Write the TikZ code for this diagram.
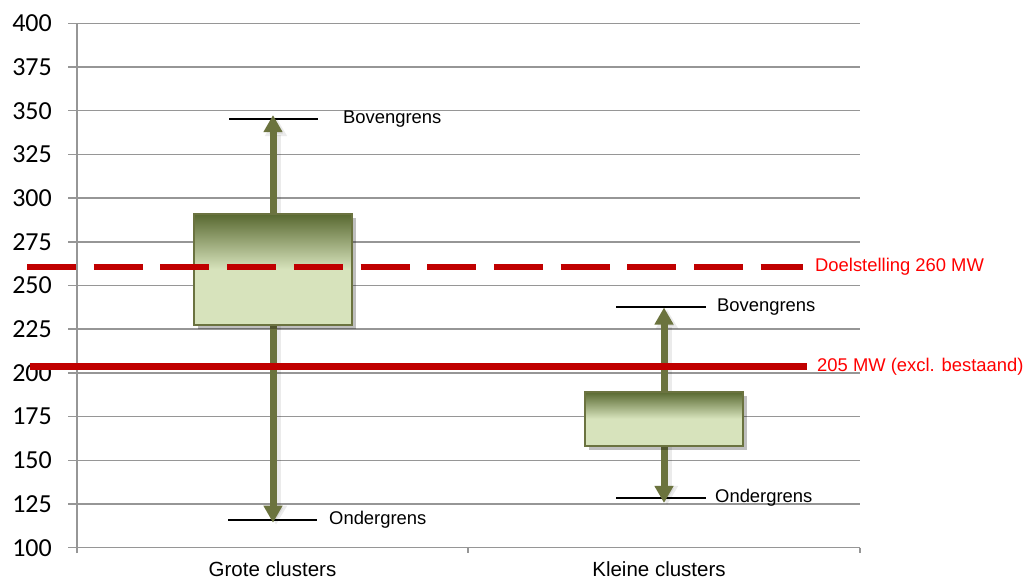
\documentclass[tikz,border=0pt]{standalone}
\usepackage{fontspec}
\setmainfont{Liberation Sans}
\newfontfamily\calib{Carlito}
\usetikzlibrary{arrows.meta,shadows}
\definecolor{gridgray}{RGB}{150,150,150}
\definecolor{boxlight}{RGB}{215,227,188}
\definecolor{boxdark}{RGB}{88,104,48}
\definecolor{boxedge}{RGB}{107,115,64}
\definecolor{arrcol}{RGB}{107,115,62}
\definecolor{goalred}{RGB}{192,0,0}
\definecolor{labred}{RGB}{255,0,0}
\pgfdeclareverticalshading{boxshade}{100bp}{color(0bp)=(boxlight); color(50bp)=(boxlight); color(75bp)=(boxdark); color(100bp)=(boxdark)}
\tikzset{
  grid/.style={draw=gridgray, line width=1.5pt},
  ticklab/.style={anchor=east, inner sep=0pt, font=\calib\fontsize{26}{30}\selectfont},
  catlab/.style={anchor=base, inner sep=0pt, font=\fontsize{20.5}{24}\selectfont},
  limlab/.style={anchor=west, inner sep=0pt, font=\fontsize{18.4}{22}\selectfont},
  redlab/.style={anchor=west, inner sep=0pt, text=labred, font=\fontsize{18.4}{22}\selectfont},
  limit/.style={draw=black, line width=2pt},
  arr/.style={draw=arrcol, line width=7pt, -{Triangle[width=18pt,length=17pt]}},
  arrshadow/.style={draw=black, opacity=0.08, line width=9pt, -{Triangle[width=21pt,length=19pt]}},
  boxst/.style={draw=boxedge, line width=2pt, shading=boxshade, inner sep=0pt, minimum width=158pt,
    drop shadow={shadow xshift=4pt, shadow yshift=-4pt, opacity=0.25, fill=black}},
  goaldash/.style={draw=goalred, line width=6pt, dash pattern=on 49pt off 17.7pt},
  goalsolid/.style={draw=goalred, line width=7pt}
}
\begin{document}
\begin{tikzpicture}[x=1pt,y=1.748pt]
\useasboundingbox (0,81.52) rectangle (1024,413.33);
% grid
\foreach \v in {125,150,...,400} \draw[grid] (68,\v) -- (860,\v);
\draw[grid] (68,100) -- (860,100);
\draw[grid] (77,96.9) -- (77,400);
\draw[grid] (468,100) -- (468,96.9);
\draw[grid] (860,100) -- (860,96.9);
\foreach \v in {100,125,...,400} \node[ticklab] (lab\v) at (52,\v) {\v};
% category labels
\node[catlab] (cat1) at (272.5,83.3) {Grote clusters};
\node[catlab] (cat2) at (659,83.3) {Kleine clusters};
% limit lines
\coordinate (hi1a) at (229,345.3); \coordinate (hi1b) at (318,345.3);
\coordinate (lo1a) at (228,116);   \coordinate (lo1b) at (317,116);
\coordinate (hi2a) at (616,237.5); \coordinate (hi2b) at (706,237.5);
\coordinate (lo2a) at (616,128.4); \coordinate (lo2b) at (706,128.4);
\draw[limit] (hi1a) -- (hi1b);
\draw[limit] (lo1a) -- (lo1b);
\draw[limit] (hi2a) -- (hi2b);
\draw[limit] (lo2a) -- (lo2b);
\node[limlab] (bov1) at (343,345.3) {Bovengrens};
\node[limlab] (ond1) at (329,116) {Ondergrens};
\node[limlab] (bov2) at (717,237.5) {Bovengrens};
\node[limlab] (ond2) at (715,128.4) {Ondergrens};
% arrow tips
\coordinate (t1) at (273,347.5);
\coordinate (u1) at (273,114.3);
\coordinate (t2) at (664,237.4);
\coordinate (u2) at (664,125.6);
% boxes positions (for arrows)
\path (273,259.2) coordinate (c1) (664,173.8) coordinate (c2);
\begin{scope}[transform canvas={shift={(3pt,-2pt)}}]
\draw[arrshadow] (c1) -- (t1);
\draw[arrshadow] (c1) -- (u1);
\draw[arrshadow] (c2) -- (t2);
\draw[arrshadow] (c2) -- (u2);
\end{scope}
\draw[arr] (c1) -- (t1);
\draw[arr] (c1) -- (u1);
\draw[arr] (c2) -- (t2);
\draw[arr] (c2) -- (u2);
% boxes
\node[boxst, minimum height=111.2pt] (b1) at (c1) {};
\node[boxst, minimum height=53.8pt] (b2) at (c2) {};
% goal lines
\coordinate (g1a) at (27,260.8); \coordinate (g1b) at (803,260.8);
\coordinate (g2a) at (30,203.6); \coordinate (g2b) at (807,203.6);
\draw[goaldash] (g1a) -- (g1b);
\draw[goalsolid] (g2a) -- (g2b);
\node[redlab] (goal1) at (815,260.8) {Doelstelling 260 MW};
\node[redlab] (goal2) at (817,203.6) {205 MW (excl. bestaand)};
\end{tikzpicture}
\end{document}
